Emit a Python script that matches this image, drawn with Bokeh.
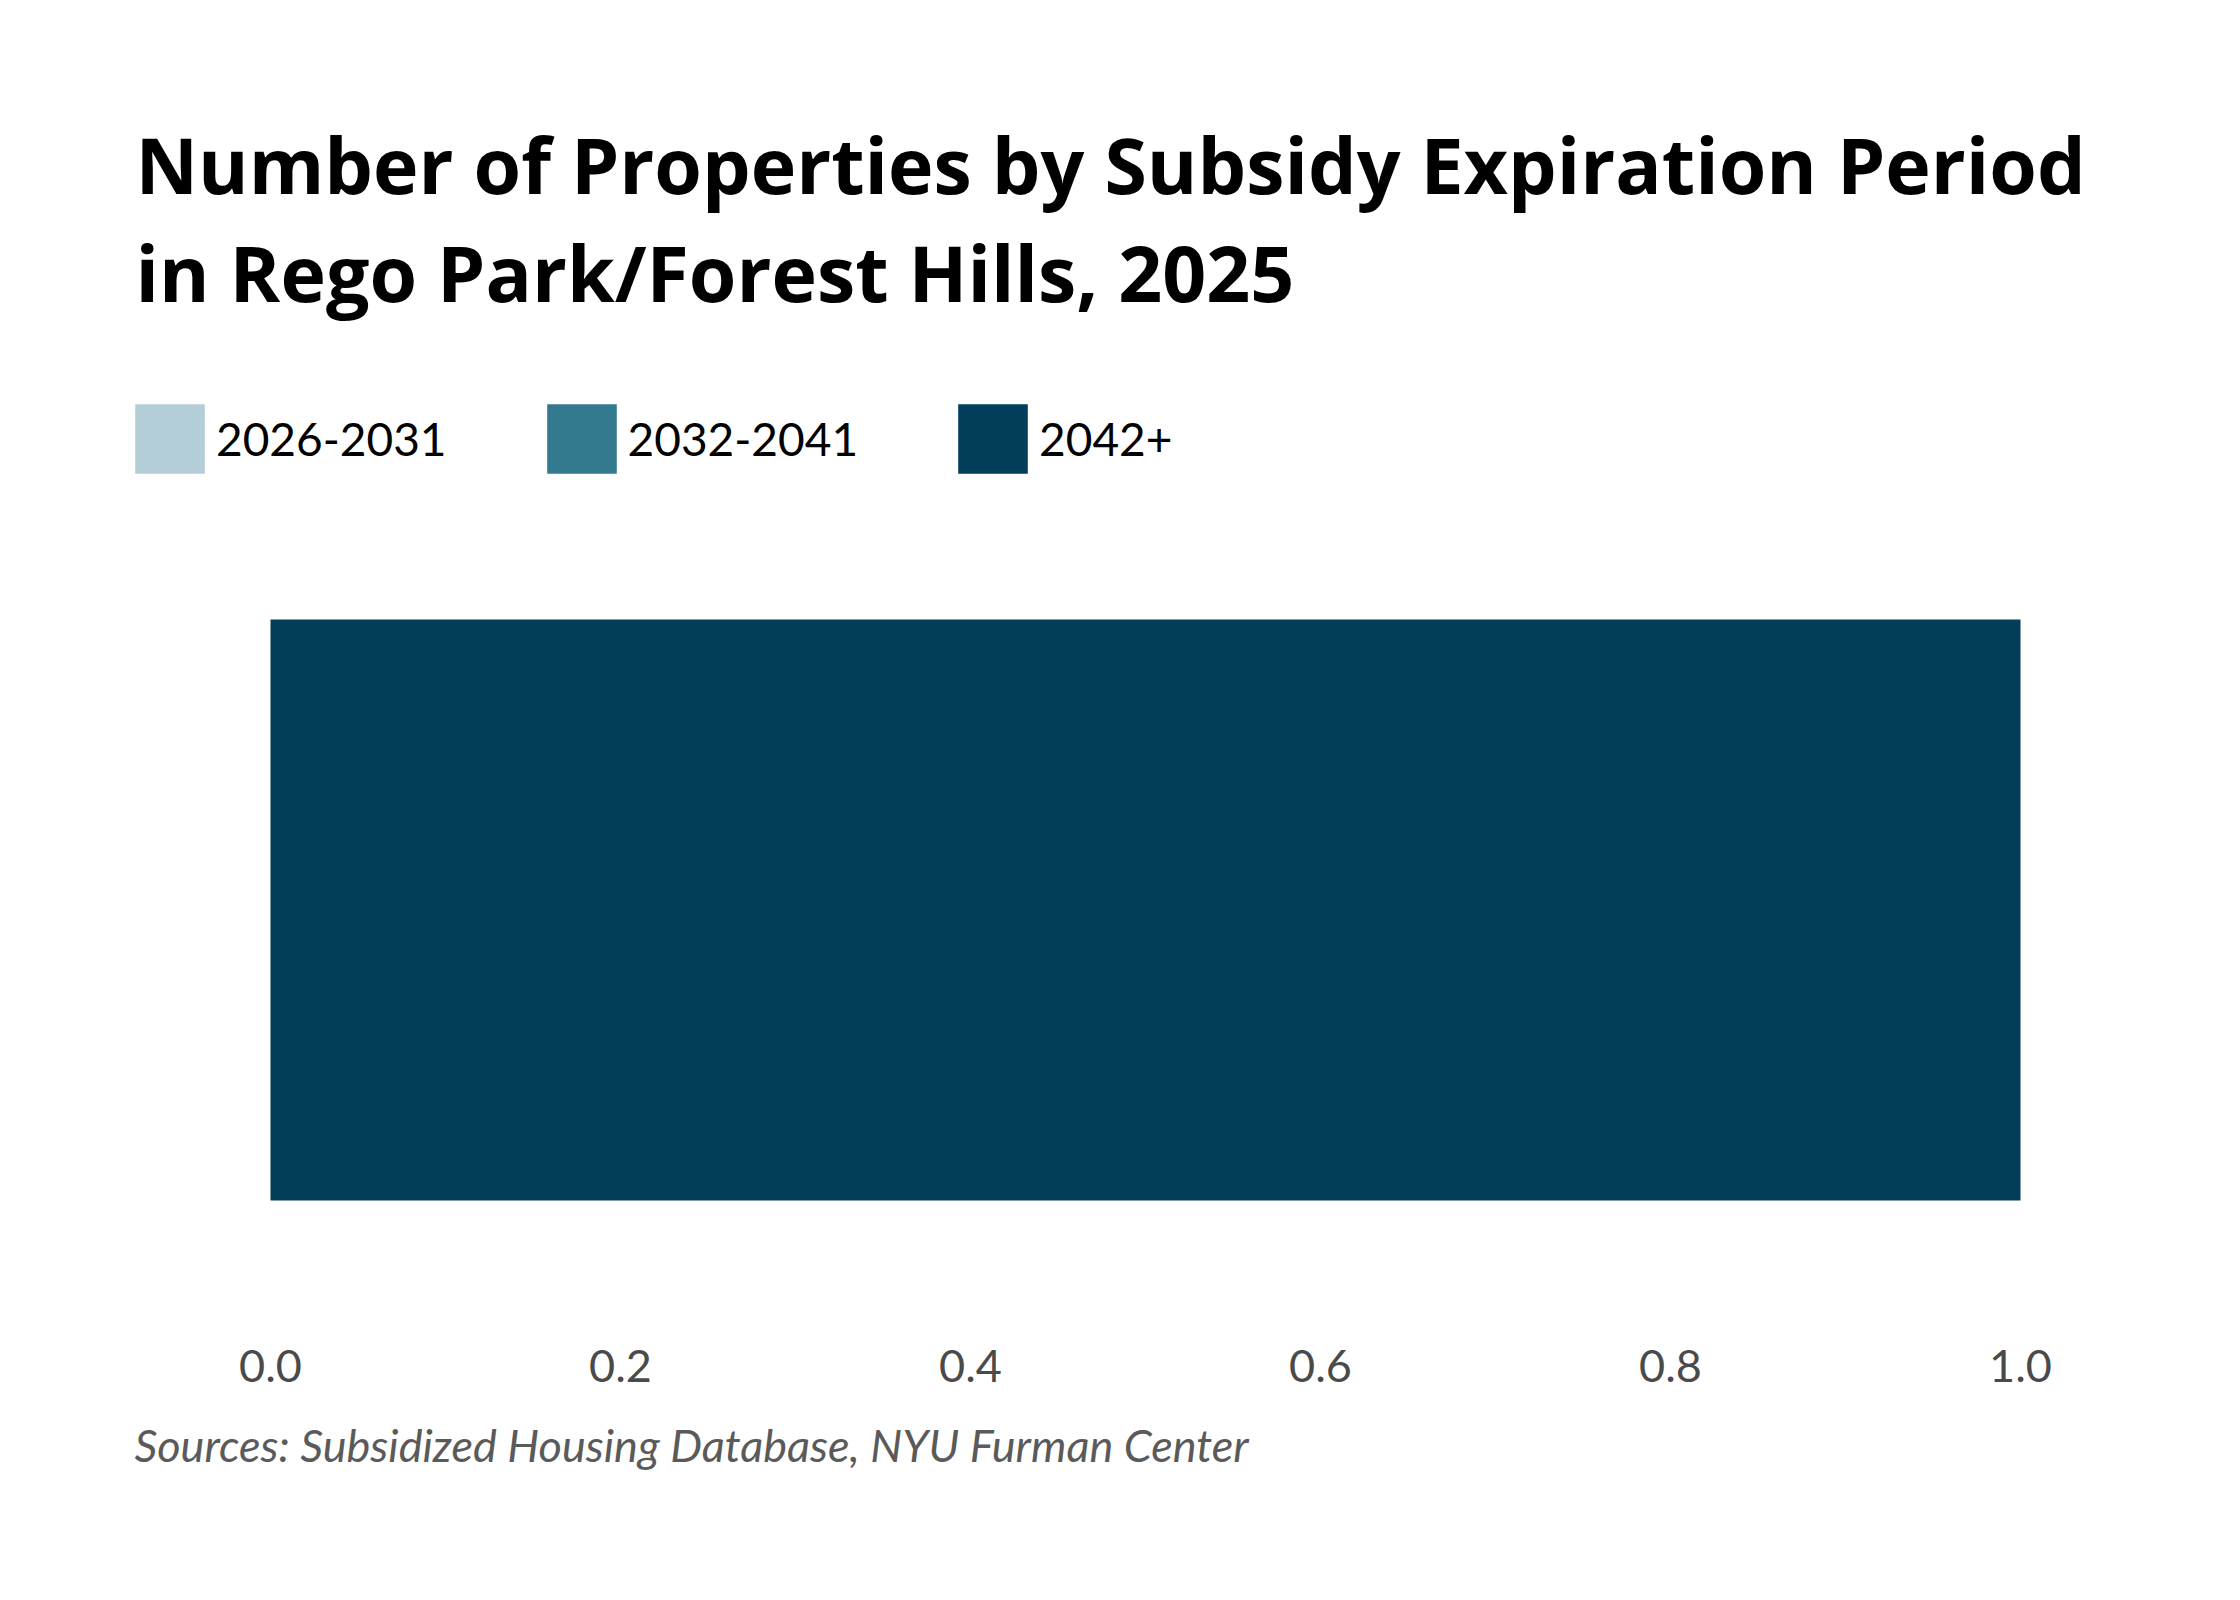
from bokeh.plotting import figure
from bokeh.models import Label, FixedTicker, NumeralTickFormatter, Range1d, Title
from bokeh.embed import file_html
from bokeh.resources import INLINE

# data
neighborhood = ["Rego Park/Forest Hills"]
periods = ["2026-2031", "2032-2041", "2042+"]
counts = {"2026-2031": [0], "2032-2041": [0], "2042+": [1]}
colors = ["#b4ced8", "#347a8f", "#023e59"]
x_ticks = [0.0, 0.2, 0.4, 0.6, 0.8, 1.0]

title_lines = ["Number of Properties by Subsidy Expiration Period",
               "in Rego Park/Forest Hills, 2025"]
source_note = "Sources: Subsidized Housing Database, NYU Furman Center"

W, H = 2224, 1584
frame_h = 1271          # frame runs from the top of the canvas down to the axis
bar_left, bar_right = 270, 2020   # pixel span of 0..1 on the x scale
band = 726              # pixel height of one category band
band_mid = 361.5        # band centre, px above frame bottom

px = 1.0 / (bar_right - bar_left)
x_range = Range1d(-bar_left * px, (W - bar_left) * px)
y_range = Range1d(-band_mid / band, (frame_h - band_mid) / band)

data = dict(y=list(range(len(neighborhood))))
data.update(counts)

p = figure(width=W, height=H, x_range=x_range, y_range=y_range,
           output_backend="svg", toolbar_location=None,
           min_border_left=0, min_border_right=0, min_border_top=0,
           min_border_bottom=H - frame_h)

p.hbar_stack(periods, y="y", height=0.8, source=data, color=colors,
             line_width=0, legend_label=periods)

p.outline_line_color = None
p.grid.visible = False
p.yaxis.visible = False
p.xaxis.axis_line_color = None
p.xaxis.major_tick_line_color = None
p.xaxis.minor_tick_line_color = None
p.xaxis.ticker = FixedTicker(ticks=x_ticks)
p.xaxis.formatter = NumeralTickFormatter(format="0.0")
p.xaxis.major_label_text_font = "Lato"
p.xaxis.major_label_text_font_size = "45px"
p.xaxis.major_label_text_color = "#4a4a4a"
p.xaxis.major_label_standoff = 72

# legend across the top
legend = p.legend[0]
legend.orientation = "horizontal"
legend.location = (126, 789)
legend.glyph_width = 87
legend.glyph_height = 87
legend.label_standoff = 3
legend.spacing = 91
legend.padding = 0
legend.margin = 0
legend.border_line_color = None
legend.background_fill_alpha = 0
legend.label_text_font = "Lato"
legend.label_text_font_size = "46px"
legend.label_text_color = "#000000"

# title
for line, y in zip(title_lines, [1107, 999]):
    p.add_layout(Label(x=135, y=y, x_units="screen", y_units="screen", text=line,
                       text_font="Open Sans", text_font_style="bold",
                       text_font_size="77px", text_color="#000000",
                       text_baseline="alphabetic"))

# source note under the axis
p.add_layout(Title(text=source_note, align="left", offset=134, standoff=62,
                   text_font="Lato", text_font_style="italic",
                   text_font_size="45px", text_color="#5a5a5a"), "below")

open("out.html", "w").write(file_html(p, INLINE))
